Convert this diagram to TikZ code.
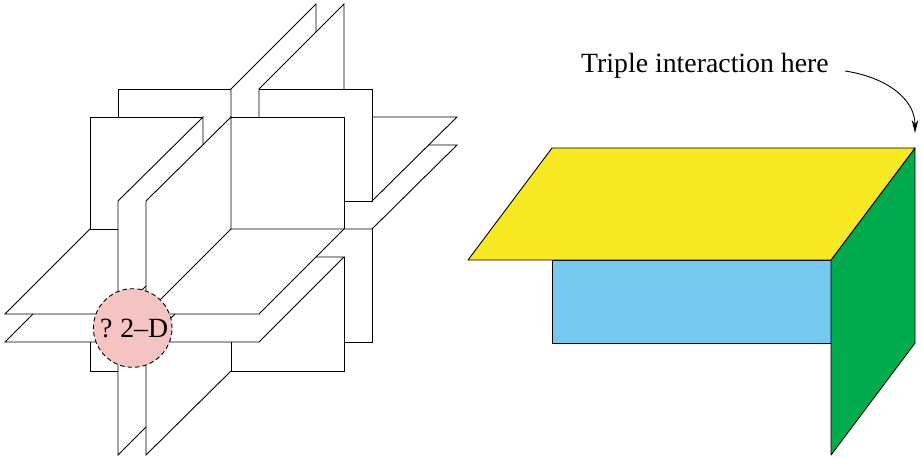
\documentclass[tikz,border=0pt]{standalone}
\usepackage{fontspec}
\setmainfont{Liberation Serif}
\usetikzlibrary{arrows.meta}
\definecolor{topyellow}{RGB}{248,233,37}
\definecolor{frontblue}{RGB}{117,201,241}
\definecolor{sidegreen}{RGB}{0,171,78}
\definecolor{circlepink}{RGB}{245,196,194}
\tikzset{
    sheet/.style={black, line width=0.9pt, line join=miter},
    face/.style={draw=black, line width=0.9pt, line join=round},
    twodmark/.style={circle, draw=black, dash pattern=on 4.5pt off 3pt, line width=0.9pt, fill=circlepink, minimum size=78.6pt, inner sep=0pt, font=\fontsize{27.8}{30}\selectfont},
    labeltext/.style={inner sep=0pt, font=\fontsize{27.8}{30}\selectfont}
}
\begin{document}
\begin{tikzpicture}[x=1pt,y=-1pt]
    \useasboundingbox (0,0) rectangle (922,458);

    % Back frontal sheet
    \draw [sheet] (118,117) -- (118,89) -- (231,89);
    \draw [sheet] (259,89) -- (372,89) -- (372,201) -- (344,201);
    \draw [sheet] (372,229) -- (372,342) -- (344,342);

    % Front frontal sheet
    \draw [sheet] (203,117) -- (90,117) -- (90,229) -- (118,229);
    \draw [sheet] (231,117) -- (344,117) -- (344,229);
    \draw [sheet] (344,257) -- (344,371) -- (231,371) -- (231,342);
    \draw [sheet] (90,342) -- (90,371) -- (118,371);

    % Upright sheets running back to front
    \draw [sheet] (231,117) -- (231,89) -- (316,4) -- (316,32);
    \draw [sheet] (259,117) -- (259,89) -- (344,4) -- (344,89);
    \draw [sheet] (203,145) -- (203,117) -- (118,201) -- (118,455) -- (146,427);
    \draw [sheet] (231,229) -- (231,117) -- (146,201) -- (146,455) -- (231,371);

    % Level sheets
    \draw [sheet] (90,229) -- (5,314) -- (118,314) -- (146,286);
    \draw [sheet] (33,314) -- (5,342) -- (118,342);
    \draw [sheet] (146,314) -- (231,229) -- (372,229) -- (457,145) -- (428,145);
    \draw [sheet] (146,314) -- (259,314) -- (344,229);
    \draw [sheet] (175,314) -- (146,342) -- (259,342) -- (344,257) -- (316,257);
    \draw [sheet] (372,117) -- (457,117) -- (372,201);

    % Marked region
    \node [twodmark] (twod) at (132.7,328) {\hspace{3pt}?\hspace{-1.5pt} 2--D};

    % Coloured faces
    \draw [face, fill=frontblue] (552,260) -- (831,260) -- (831,343) -- (552,343) -- cycle;
    \draw [face, fill=sidegreen] (831,260) -- (915,148) -- (915,343) -- (831,455) -- cycle;
    \draw [face, fill=topyellow] (552,148) -- (915,148) -- (831,260) -- (468,260) -- cycle;

    % Label and its arrow
    \node [labeltext] (triple) at (705,66) {Triple interaction here};
    \coordinate (triplefrom) at (845,71);
    \coordinate (tripleto) at (915,133);
    \draw [-{Stealth[length=13pt,width=6.5pt]}, line width=0.9pt] (triplefrom) .. controls (885,77) and (915,98) .. (tripleto);
\end{tikzpicture}
\end{document}
